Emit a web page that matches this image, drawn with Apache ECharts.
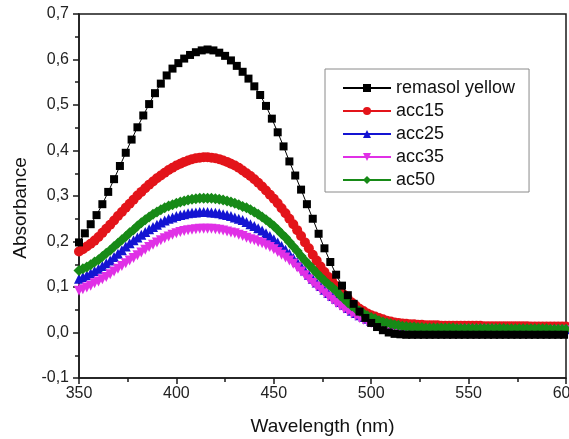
<!DOCTYPE html>
<html>
<head>
<meta charset="utf-8">
<title>Absorbance spectra</title>
<script src="https://cdn.jsdelivr.net/npm/echarts@6/dist/echarts.min.js"></script>
<style>
  html, body { margin: 0; padding: 0; background: #fff; }
  #chart { width: 569px; height: 439px; }
</style>
</head>
<body>
<div id="chart"></div>
<script>
// wavelengths (nm) for the reference dye, sampled every 3 nm
const wavelengthDye = [
  350, 353, 356, 359, 362, 365, 368, 371, 374, 377,
  380, 383, 386, 389, 392, 395, 398, 401, 404, 407,
  410, 413, 416, 419, 422, 425, 428, 431, 434, 437,
  440, 443, 446, 449, 452, 455, 458, 461, 464, 467,
  470, 473, 476, 479, 482, 485, 488, 491, 494, 497,
  500, 503, 506, 509, 512, 515, 518, 521, 524, 527,
  530, 533, 536, 539, 542, 545, 548, 551, 554, 557,
  560, 563, 566, 569, 572, 575, 578, 581, 584, 587,
  590, 593, 596, 599
];

// wavelengths (nm) for the treated samples, sampled every 2 nm
const wavelengthSample = [
  350, 352, 354, 356, 358, 360, 362, 364, 366, 368,
  370, 372, 374, 376, 378, 380, 382, 384, 386, 388,
  390, 392, 394, 396, 398, 400, 402, 404, 406, 408,
  410, 412, 414, 416, 418, 420, 422, 424, 426, 428,
  430, 432, 434, 436, 438, 440, 442, 444, 446, 448,
  450, 452, 454, 456, 458, 460, 462, 464, 466, 468,
  470, 472, 474, 476, 478, 480, 482, 484, 486, 488,
  490, 492, 494, 496, 498, 500, 502, 504, 506, 508,
  510, 512, 514, 516, 518, 520, 522, 524, 526, 528,
  530, 532, 534, 536, 538, 540, 542, 544, 546, 548,
  550, 552, 554, 556, 558, 560, 562, 564, 566, 568,
  570, 572, 574, 576, 578, 580, 582, 584, 586, 588,
  590, 592, 594, 596, 598, 600
];

const remasolYellow = [
  0.198, 0.218, 0.238, 0.258, 0.282, 0.309, 0.337, 0.366, 0.395, 0.424,
  0.451, 0.477, 0.502, 0.526, 0.547, 0.565, 0.580, 0.592, 0.602, 0.610,
  0.616, 0.620, 0.622, 0.620, 0.615, 0.608, 0.598, 0.586, 0.573, 0.558,
  0.541, 0.522, 0.498, 0.470, 0.440, 0.409, 0.376, 0.345, 0.314, 0.282,
  0.250, 0.217, 0.185, 0.155, 0.127, 0.103, 0.082, 0.063, 0.046, 0.032,
  0.021, 0.012, 0.005, 0.000, -0.003, -0.004, -0.005, -0.005, -0.005, -0.005,
  -0.005, -0.005, -0.005, -0.005, -0.005, -0.005, -0.005, -0.005, -0.005, -0.005,
  -0.005, -0.005, -0.005, -0.005, -0.005, -0.005, -0.005, -0.005, -0.005, -0.005,
  -0.005, -0.005, -0.005, -0.005
];

const acc15 = [
  0.178, 0.183, 0.189, 0.195, 0.202, 0.210, 0.219, 0.228, 0.237, 0.246,
  0.256, 0.265, 0.274, 0.283, 0.292, 0.301, 0.309, 0.317, 0.325, 0.332,
  0.339, 0.345, 0.351, 0.357, 0.362, 0.367, 0.371, 0.375, 0.378, 0.381,
  0.383, 0.384, 0.385, 0.385, 0.384, 0.383, 0.381, 0.378, 0.375, 0.371,
  0.367, 0.362, 0.356, 0.350, 0.344, 0.337, 0.329, 0.321, 0.312, 0.303,
  0.294, 0.284, 0.273, 0.262, 0.250, 0.238, 0.225, 0.212, 0.198, 0.185,
  0.171, 0.158, 0.145, 0.133, 0.122, 0.112, 0.102, 0.093, 0.083, 0.074,
  0.066, 0.059, 0.052, 0.047, 0.042, 0.038, 0.035, 0.032, 0.029, 0.026,
  0.024, 0.022, 0.021, 0.020, 0.019, 0.018, 0.018, 0.017, 0.017, 0.016,
  0.016, 0.016, 0.016, 0.015, 0.015, 0.015, 0.015, 0.015, 0.015, 0.015,
  0.015, 0.015, 0.015, 0.015, 0.014, 0.014, 0.014, 0.014, 0.014, 0.014,
  0.014, 0.014, 0.014, 0.014, 0.014, 0.014, 0.013, 0.013, 0.013, 0.013,
  0.013, 0.013, 0.013, 0.013, 0.013, 0.013
];

const acc25 = [
  0.118, 0.122, 0.126, 0.130, 0.135, 0.140, 0.146, 0.152, 0.158, 0.166,
  0.173, 0.181, 0.189, 0.196, 0.203, 0.209, 0.215, 0.221, 0.227, 0.232,
  0.237, 0.242, 0.246, 0.250, 0.253, 0.256, 0.258, 0.260, 0.262, 0.263,
  0.264, 0.265, 0.265, 0.265, 0.264, 0.263, 0.262, 0.260, 0.258, 0.256,
  0.253, 0.250, 0.247, 0.243, 0.238, 0.234, 0.229, 0.224, 0.218, 0.212,
  0.205, 0.198, 0.190, 0.182, 0.173, 0.164, 0.155, 0.146, 0.136, 0.127,
  0.118, 0.110, 0.102, 0.094, 0.087, 0.080, 0.074, 0.067, 0.061, 0.054,
  0.048, 0.043, 0.038, 0.034, 0.030, 0.026, 0.023, 0.020, 0.017, 0.015,
  0.013, 0.012, 0.011, 0.010, 0.010, 0.009, 0.009, 0.009, 0.009, 0.009,
  0.009, 0.009, 0.008, 0.008, 0.008, 0.008, 0.008, 0.008, 0.008, 0.008,
  0.008, 0.008, 0.008, 0.008, 0.008, 0.008, 0.008, 0.008, 0.008, 0.008,
  0.007, 0.007, 0.007, 0.007, 0.007, 0.007, 0.007, 0.007, 0.007, 0.007,
  0.007, 0.007, 0.007, 0.007, 0.007, 0.007
];

const acc35 = [
  0.092, 0.095, 0.099, 0.103, 0.108, 0.112, 0.117, 0.122, 0.128, 0.134,
  0.140, 0.146, 0.152, 0.158, 0.164, 0.170, 0.176, 0.182, 0.188, 0.193,
  0.198, 0.203, 0.207, 0.211, 0.215, 0.218, 0.221, 0.223, 0.225, 0.226,
  0.227, 0.228, 0.228, 0.228, 0.228, 0.227, 0.226, 0.224, 0.222, 0.220,
  0.218, 0.215, 0.212, 0.208, 0.205, 0.203, 0.199, 0.196, 0.192, 0.188,
  0.183, 0.177, 0.171, 0.165, 0.158, 0.151, 0.143, 0.134, 0.126, 0.117,
  0.109, 0.101, 0.094, 0.086, 0.079, 0.072, 0.065, 0.059, 0.052, 0.047,
  0.042, 0.037, 0.032, 0.028, 0.024, 0.021, 0.018, 0.015, 0.013, 0.011,
  0.010, 0.009, 0.008, 0.008, 0.007, 0.007, 0.007, 0.007, 0.007, 0.007,
  0.006, 0.006, 0.006, 0.006, 0.006, 0.006, 0.006, 0.006, 0.006, 0.006,
  0.006, 0.006, 0.006, 0.006, 0.006, 0.006, 0.006, 0.006, 0.005, 0.005,
  0.005, 0.005, 0.005, 0.005, 0.005, 0.005, 0.005, 0.005, 0.005, 0.005,
  0.005, 0.005, 0.005, 0.005, 0.005, 0.005
];

const ac50 = [
  0.136, 0.140, 0.144, 0.149, 0.155, 0.160, 0.167, 0.174, 0.181, 0.189,
  0.196, 0.204, 0.211, 0.219, 0.226, 0.234, 0.241, 0.248, 0.254, 0.260,
  0.265, 0.270, 0.274, 0.278, 0.281, 0.284, 0.287, 0.289, 0.291, 0.293,
  0.294, 0.295, 0.295, 0.295, 0.295, 0.294, 0.293, 0.291, 0.289, 0.287,
  0.284, 0.281, 0.277, 0.274, 0.270, 0.265, 0.260, 0.254, 0.248, 0.241,
  0.234, 0.226, 0.217, 0.209, 0.199, 0.189, 0.179, 0.168, 0.158, 0.149,
  0.140, 0.131, 0.122, 0.114, 0.106, 0.099, 0.091, 0.082, 0.074, 0.066,
  0.059, 0.053, 0.047, 0.042, 0.037, 0.033, 0.030, 0.026, 0.023, 0.021,
  0.019, 0.017, 0.016, 0.014, 0.013, 0.012, 0.012, 0.011, 0.011, 0.010,
  0.010, 0.010, 0.010, 0.010, 0.010, 0.010, 0.010, 0.009, 0.009, 0.009,
  0.009, 0.009, 0.009, 0.009, 0.009, 0.009, 0.009, 0.009, 0.009, 0.009,
  0.008, 0.008, 0.008, 0.008, 0.008, 0.008, 0.008, 0.008, 0.008, 0.008,
  0.008, 0.007, 0.007, 0.007, 0.007, 0.007
];

const seriesNames = ['remasol yellow', 'acc15', 'acc25', 'acc35', 'ac50'];

const pairs = (xs, ys) => xs.map((x, i) => [x, ys[i]]);
const commaLabel = v => v.toFixed(1).replace('.', ',');
const axisColor = '#1a1a1a';
const fontFamily = '"Liberation Sans", Arial, sans-serif';

const makeSeries = (name, data, color, symbol, size, extra) => Object.assign({
  name: name,
  type: 'line',
  data: data,
  symbol: symbol,
  symbolSize: size,
  showAllSymbol: true,
  itemStyle: { color: color },
  lineStyle: { color: color, width: 1 },
  emphasis: { disabled: true }
}, extra || {});

const chart = echarts.init(document.getElementById('chart'));

const option = {
  animation: false,
  backgroundColor: '#ffffff',
  textStyle: { fontFamily: fontFamily },
  grid: {
    left: 79, right: 3, top: 14, bottom: 61,
    outerBoundsMode: 'none',
    show: true, borderColor: axisColor, borderWidth: 1.5, backgroundColor: 'transparent'
  },
  legend: {
    left: 325,
    top: 69,
    orient: 'vertical',
    data: seriesNames,
    itemWidth: 48,
    itemHeight: 10,
    itemGap: 5,
    padding: [10, 14, 3, 17],
    borderColor: '#8a8a8a',
    borderWidth: 1,
    backgroundColor: '#fff',
    textStyle: { fontSize: 18, color: '#111', fontFamily: fontFamily }
  },
  xAxis: {
    type: 'value',
    min: 350,
    max: 600,
    interval: 50,
    name: 'Wavelength (nm)',
    nameLocation: 'middle',
    nameGap: 39,
    nameTextStyle: { fontSize: 19, color: '#111' },
    axisLine: { onZero: false, lineStyle: { color: axisColor, width: 1.5 } },
    axisTick: { inside: false, length: 6, lineStyle: { color: axisColor, width: 1.5 } },
    minorTick: { show: true, splitNumber: 2, length: 4, lineStyle: { color: axisColor, width: 1.5 } },
    axisLabel: { fontSize: 16, color: '#222', margin: 8 },
    splitLine: { show: false }
  },
  yAxis: {
    type: 'value',
    min: -0.1,
    max: 0.7,
    interval: 0.1,
    name: 'Absorbance',
    nameLocation: 'middle',
    nameGap: 46,
    nameTextStyle: { fontSize: 19, color: '#111', padding: [0, 24, 0, 0] },
    axisLine: { onZero: false, lineStyle: { color: axisColor, width: 1.5 } },
    axisTick: { inside: false, length: 6, lineStyle: { color: axisColor, width: 1.5 } },
    minorTick: { show: true, splitNumber: 2, length: 4, lineStyle: { color: axisColor, width: 1.5 } },
    axisLabel: { fontSize: 16, color: '#222', margin: 10, formatter: commaLabel },
    splitLine: { show: false }
  },
  series: [
    makeSeries(seriesNames[0], pairs(wavelengthDye, remasolYellow), '#000000', 'rect', 8, { z: 5 }),
    makeSeries(seriesNames[1], pairs(wavelengthSample, acc15), '#e3141a', 'circle', 10),
    makeSeries(seriesNames[2], pairs(wavelengthSample, acc25), '#1414d2', 'triangle', 10),
    makeSeries(seriesNames[3], pairs(wavelengthSample, acc35), '#e030e6', 'triangle', 10, { symbolRotate: 180 }),
    makeSeries(seriesNames[4], pairs(wavelengthSample, ac50), '#178a17', 'diamond', 11)
  ]
};

chart.setOption(option);
</script>
</body>
</html>
